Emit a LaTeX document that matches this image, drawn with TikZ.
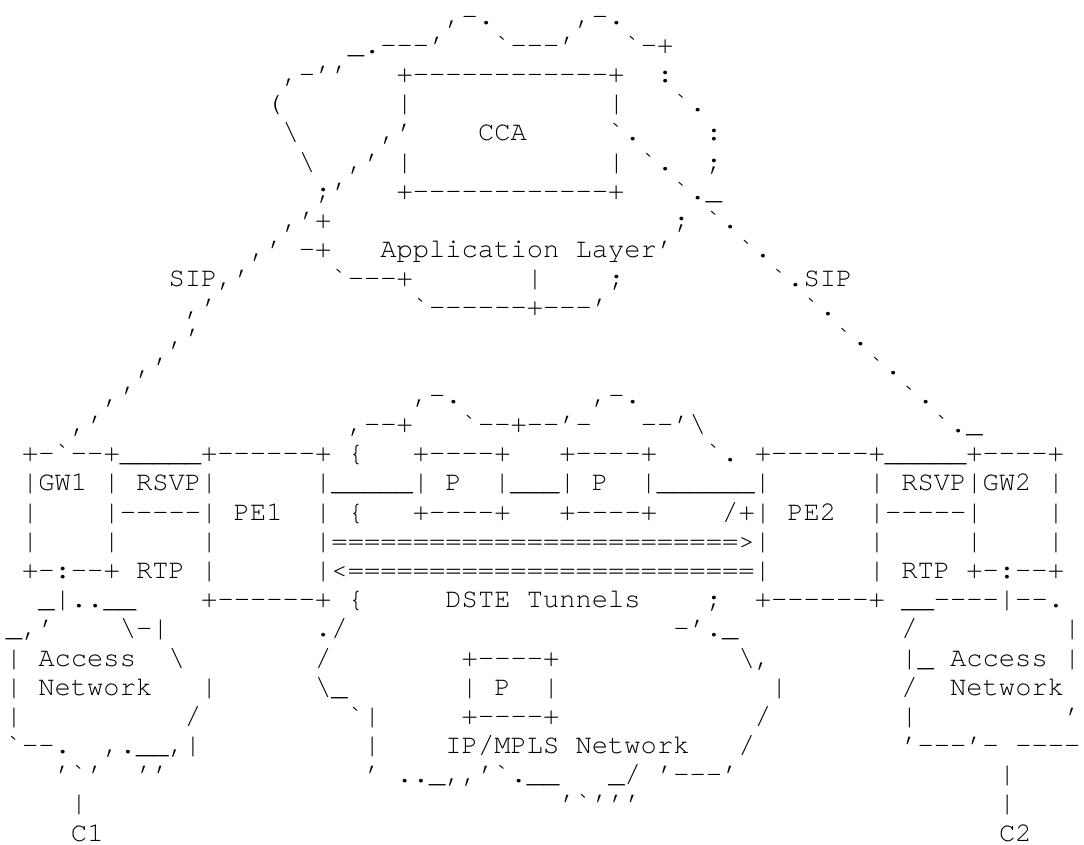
\documentclass[tikz,border=0pt]{standalone}
\usepackage{fontspec}
\setmonofont{TeX Gyre Cursor}
\usepackage{tikz}
\newcommand{\artfont}{\ttfamily\fontsize{13.56pt}{14.6pt}\selectfont}
\newcommand{\artbs}{\textbackslash}
\tikzstyle{art}=[anchor=base west,inner sep=0pt,outer sep=0pt,font=\artfont]
\tikzstyle{none}=[]

\begin{document}
\begin{tikzpicture}[x=8.14pt,y=-14.585pt]
            \path [fill=white,use as bounding box] (-0.36, 0.17) rectangle (66.22, 29.107);
            \node [style=art] (r1a) at (27, 1) {,-.};
            \node [style=art] (r1b) at (35, 1) {,-.};
            \node [style=art] (r2a) at (21, 2) {\_.---’};
            \node [style=art] (r2b) at (30, 2) {`---’};
            \node [style=art] (r2c) at (38, 2) {`-+};
            \node [style=art] (r3a) at (17, 3) {,-’’};
            \node [style=art] (r3b) at (24, 3) {+------------+};
            \node [style=art] (r3c) at (40, 3) {:};
            \node [style=art] (r4a) at (16, 4) {(};
            \node [style=art] (r4b) at (24, 4) {|};
            \node [style=art] (r4c) at (37, 4) {|};
            \node [style=art] (r4d) at (41, 4) {`.};
            \node [style=art] (r5a) at (17, 5) {\artbs};
            \node [style=art] (r5b) at (23, 5) {,’};
            \node [style=art] (r5c) at (29, 5) {CCA};
            \node [style=art] (r5d) at (37, 5) {`.};
            \node [style=art] (r5e) at (43, 5) {:};
            \node [style=art] (r6a) at (18, 6) {\artbs};
            \node [style=art] (r6b) at (21, 6) {,’ |};
            \node [style=art] (r6c) at (37, 6) {| `.};
            \node [style=art] (r6d) at (43, 6) {;};
            \node [style=art] (r7a) at (19, 7) {;’};
            \node [style=art] (r7b) at (24, 7) {+------------+};
            \node [style=art] (r7c) at (41, 7) {`.\_};
            \node [style=art] (r8a) at (17, 8) {,’+};
            \node [style=art] (r8b) at (41, 8) {; `.};
            \node [style=art] (r9a) at (15, 9) {,’ -+};
            \node [style=art] (r9b) at (23, 9) {Application Layer’};
            \node [style=art] (r9c) at (45, 9) {`.};
            \node [style=art] (r10a) at (10, 10) {SIP,’};
            \node [style=art] (r10b) at (20, 10) {`---+};
            \node [style=art] (r10c) at (32, 10) {|};
            \node [style=art] (r10d) at (37, 10) {;};
            \node [style=art] (r10e) at (47, 10) {`.SIP};
            \node [style=art] (r11a) at (11, 11) {,’};
            \node [style=art] (r11b) at (25, 11) {`------+---’};
            \node [style=art] (r11c) at (49, 11) {`.};
            \node [style=art] (r12a) at (10, 12) {,’};
            \node [style=art] (r12b) at (51, 12) {`.};
            \node [style=art] (r13a) at (8, 13) {,’};
            \node [style=art] (r13b) at (53, 13) {`.};
            \node [style=art] (r14a) at (6, 14) {,’};
            \node [style=art] (r14b) at (25, 14) {,-.};
            \node [style=art] (r14c) at (36, 14) {,-.};
            \node [style=art] (r14d) at (55, 14) {`.};
            \node [style=art] (r15a) at (4, 15) {,’};
            \node [style=art] (r15b) at (21, 15) {,--+};
            \node [style=art] (r15c) at (28, 15) {`--+--’-};
            \node [style=art] (r15d) at (39, 15) {--’\artbs};
            \node [style=art] (r15e) at (57, 15) {`.\_};
            \node [style=art] (r16a) at (1, 16) {+-`--+\_\_\_\_\_+------+};
            \node [style=art] (r16b) at (21, 16) {\{};
            \node [style=art] (r16c) at (25, 16) {+----+};
            \node [style=art] (r16d) at (34, 16) {+----+};
            \node [style=art] (r16e) at (43, 16) {`. +------+\_\_\_\_\_+----+};
            \node [style=art] (r17a) at (1, 17) {|GW1 | RSVP|};
            \node [style=art] (r17b) at (19, 17) {|\_\_\_\_\_| P~~|\_\_\_| P~~|\_\_\_\_\_\_|};
            \node [style=art] (r17c) at (53, 17) {| RSVP|GW2 |};
            \node [style=art] (r18a) at (1, 18) {|};
            \node [style=art] (r18b) at (6, 18) {|-----| PE1};
            \node [style=art] (r18c) at (19, 18) {| \{};
            \node [style=art] (r18d) at (25, 18) {+----+};
            \node [style=art] (r18e) at (34, 18) {+----+};
            \node [style=art] (r18f) at (44, 18) {/+| PE2};
            \node [style=art] (r18g) at (53, 18) {|-----|};
            \node [style=art] (r18h) at (64, 18) {|};
            \node [style=art] (r19a) at (1, 19) {|};
            \node [style=art] (r19b) at (6, 19) {|};
            \node [style=art] (r19c) at (12, 19) {|};
            \node [style=art] (r19d) at (19, 19) {|=========================>|};
            \node [style=art] (r19e) at (53, 19) {|};
            \node [style=art] (r19f) at (59, 19) {|};
            \node [style=art] (r19g) at (64, 19) {|};
            \node [style=art] (r20a) at (1, 20) {+-:--+ RTP |};
            \node [style=art] (r20b) at (19, 20) {|<=========================|};
            \node [style=art] (r20c) at (53, 20) {| RTP +-:--+};
            \node [style=art] (r21a) at (2, 21) {\_|..\_\_};
            \node [style=art] (r21b) at (12, 21) {+------+};
            \node [style=art] (r21c) at (21, 21) {\{};
            \node [style=art] (r21d) at (27, 21) {DSTE Tunnels};
            \node [style=art] (r21e) at (43, 21) {;};
            \node [style=art] (r21f) at (46, 21) {+------+};
            \node [style=art] (r21g) at (55, 21) {\_\_----|--.};
            \node [style=art] (r22a) at (0, 22) {\_,’};
            \node [style=art] (r22b) at (7, 22) {\artbs-|};
            \node [style=art] (r22c) at (19, 22) {./};
            \node [style=art] (r22d) at (41, 22) {-’.\_};
            \node [style=art] (r22e) at (55, 22) {/};
            \node [style=art] (r22f) at (65, 22) {|};
            \node [style=art] (r23a) at (0, 23) {| Access};
            \node [style=art] (r23b) at (10, 23) {\artbs};
            \node [style=art] (r23c) at (19, 23) {/};
            \node [style=art] (r23d) at (28, 23) {+----+};
            \node [style=art] (r23e) at (45, 23) {\artbs,};
            \node [style=art] (r23f) at (55, 23) {|\_ Access |};
            \node [style=art] (r24a) at (0, 24) {| Network};
            \node [style=art] (r24b) at (12, 24) {|};
            \node [style=art] (r24c) at (19, 24) {\artbs\_};
            \node [style=art] (r24d) at (28, 24) {| P~~|};
            \node [style=art] (r24e) at (47, 24) {|};
            \node [style=art] (r24f) at (55, 24) {/};
            \node [style=art] (r24g) at (58, 24) {Network};
            \node [style=art] (r25a) at (0, 25) {|};
            \node [style=art] (r25b) at (11, 25) {/};
            \node [style=art] (r25c) at (21, 25) {`|};
            \node [style=art] (r25d) at (28, 25) {+----+};
            \node [style=art] (r25e) at (46, 25) {/};
            \node [style=art] (r25f) at (55, 25) {|};
            \node [style=art] (r25g) at (65, 25) {’};
            \node [style=art] (r26a) at (0, 26) {`--.};
            \node [style=art] (r26b) at (6, 26) {,.\_\_,|};
            \node [style=art] (r26c) at (22, 26) {|};
            \node [style=art] (r26d) at (27, 26) {IP/MPLS Network};
            \node [style=art] (r26e) at (45, 26) {/};
            \node [style=art] (r26f) at (55, 26) {’---’-};
            \node [style=art] (r26g) at (62, 26) {----};
            \node [style=art] (r27a) at (3, 27) {’`’};
            \node [style=art] (r27b) at (8, 27) {’’};
            \node [style=art] (r27c) at (22, 27) {’};
            \node [style=art] (r27d) at (24, 27) {..\_,,’`.\_\_};
            \node [style=art] (r27e) at (37, 27) {\_/ ’---’};
            \node [style=art] (r27f) at (61, 27) {|};
            \node [style=art] (r28a) at (4, 28) {|};
            \node [style=art] (r28b) at (34, 28) {’`’’’};
            \node [style=art] (r28c) at (61, 28) {|};
            \node [style=art] (c1) at (4, 29) {C1};
            \node [style=art] (c2) at (61, 29) {C2};
\end{tikzpicture}
\end{document}
